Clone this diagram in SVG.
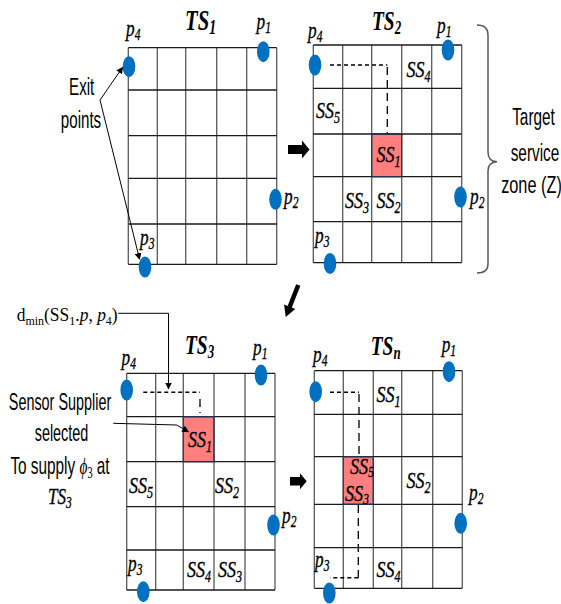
<svg xmlns="http://www.w3.org/2000/svg" width="561" height="604" viewBox="0 0 561 604">
<defs>
<style>
.bg{fill:#fff}
.h{stroke:#1a1a1a;stroke-width:1.3}
.v{stroke:#595959;stroke-width:1.3}
.hl{fill:#FF7F7F;stroke:#1F3864;stroke-width:1}
.dot{fill:#0070C0}
.m{font-family:"Liberation Serif",serif;font-style:italic;font-size:24px;fill:#000;stroke:#000;stroke-width:0.35}
.sub{font-size:16px}
.t{font-family:"Liberation Serif",serif;font-style:italic;font-weight:bold;fill:#000}
.n{font-family:"Liberation Sans",Arial,sans-serif;font-size:24px;fill:#000;text-anchor:middle}
.r{font-family:"Liberation Serif",serif;font-size:19px;fill:#000}
.dash{fill:none;stroke:#000;stroke-width:1.6;stroke-dasharray:4 3}
.vdash{fill:none;stroke:#000;stroke-width:1.3;stroke-dasharray:8 5}
.thin{fill:none;stroke:#000;stroke-width:1}
</style>
<marker id="ah" markerWidth="7" markerHeight="7" refX="6" refY="3.5" orient="auto" markerUnits="userSpaceOnUse">
<path d="M0,0 L7,3.5 L0,7 Z" fill="#000"/>
</marker>
</defs>
<rect class="bg" width="561" height="604"/>

<g id="ts1">
<g class="v">
<line x1="128.3" y1="47.7" x2="128.3" y2="264.3"/><line x1="157.3" y1="47.7" x2="157.3" y2="264.3"/><line x1="185.7" y1="47.7" x2="185.7" y2="264.3"/><line x1="216.7" y1="47.7" x2="216.7" y2="264.3"/><line x1="246.7" y1="47.7" x2="246.7" y2="264.3"/><line x1="276.7" y1="47.7" x2="276.7" y2="264.3"/>
</g>
<g class="h">
<line x1="128.3" y1="47.7" x2="276.7" y2="47.7"/><line x1="128.3" y1="90" x2="276.7" y2="90"/><line x1="128.3" y1="135.7" x2="276.7" y2="135.7"/><line x1="128.3" y1="178.3" x2="276.7" y2="178.3"/><line x1="128.3" y1="224" x2="276.7" y2="224"/><line x1="128.3" y1="264.3" x2="276.7" y2="264.3"/>
</g>
<ellipse class="dot" cx="129" cy="66.7" rx="6.3" ry="10.5"/>
<ellipse class="dot" cx="263.3" cy="51.7" rx="6.3" ry="10.5"/>
<ellipse class="dot" cx="275.5" cy="199.3" rx="6.3" ry="10.5"/>
<ellipse class="dot" cx="145" cy="267" rx="6.3" ry="10.5"/>
<text class="t" font-size="30" transform="translate(185,29.5) scale(0.69,1)">TS<tspan font-size="20" dy="4">1</tspan></text>
<text class="m" transform="translate(126,36) scale(0.72,1)">p<tspan class="sub" dy="4">4</tspan></text>
<text class="m" transform="translate(256.5,29) scale(0.72,1)">p<tspan class="sub" dy="4">1</tspan></text>
<text class="m" transform="translate(284,204) scale(0.72,1)">p<tspan class="sub" dy="4">2</tspan></text>
<text class="m" transform="translate(140,245) scale(0.72,1)">p<tspan class="sub" dy="4">3</tspan></text>
</g>

<g id="ts2">
<rect class="hl" x="371.7" y="134" width="30" height="42.7"/>
<g class="v">
<line x1="313.3" y1="45" x2="313.3" y2="262.7"/><line x1="342.7" y1="45" x2="342.7" y2="262.7"/><line x1="371.7" y1="45" x2="371.7" y2="262.7"/><line x1="401.7" y1="45" x2="401.7" y2="262.7"/><line x1="431.7" y1="45" x2="431.7" y2="262.7"/><line x1="461.7" y1="45" x2="461.7" y2="262.7"/>
</g>
<g class="h">
<line x1="313.3" y1="45" x2="461.7" y2="45"/><line x1="313.3" y1="88.3" x2="461.7" y2="88.3"/><line x1="313.3" y1="134" x2="461.7" y2="134"/><line x1="313.3" y1="176.7" x2="461.7" y2="176.7"/><line x1="313.3" y1="221.7" x2="461.7" y2="221.7"/><line x1="313.3" y1="262.7" x2="461.7" y2="262.7"/>
</g>
<rect x="371.7" y="134" width="30" height="42.7" fill="none" stroke="#1F3864" stroke-width="1"/>
<ellipse class="dot" cx="315" cy="65" rx="6.3" ry="10.5"/>
<ellipse class="dot" cx="448" cy="50" rx="6.3" ry="10.5"/>
<ellipse class="dot" cx="460.5" cy="197" rx="6.3" ry="10.5"/>
<ellipse class="dot" cx="330" cy="263.5" rx="6.3" ry="10.5"/>
<text class="t" font-size="27" transform="translate(372,30) scale(0.72,1)">TS<tspan font-size="18" dy="4">2</tspan></text>
<text class="m" transform="translate(308,38) scale(0.72,1)">p<tspan class="sub" dy="4">4</tspan></text>
<text class="m" transform="translate(437,33) scale(0.72,1)">p<tspan class="sub" dy="4">1</tspan></text>
<text class="m" transform="translate(470,204) scale(0.72,1)">p<tspan class="sub" dy="4">2</tspan></text>
<text class="m" transform="translate(315,243) scale(0.72,1)">p<tspan class="sub" dy="4">3</tspan></text>
<text class="m" transform="translate(406.5,77) scale(0.75,1)">SS<tspan class="sub" dy="5">4</tspan></text>
<text class="m" transform="translate(316,118) scale(0.75,1)">SS<tspan class="sub" dy="5">5</tspan></text>
<text class="m" transform="translate(376.5,161.7) scale(0.75,1)">SS<tspan class="sub" dy="5">1</tspan></text>
<text class="m" transform="translate(345,208) scale(0.75,1)">SS<tspan class="sub" dy="5">3</tspan></text>
<text class="m" transform="translate(376.5,208) scale(0.75,1)">SS<tspan class="sub" dy="5">2</tspan></text>
</g>

<g id="ts3">
<rect class="hl" x="183.3" y="416.7" width="30.7" height="45"/>
<g class="v">
<line x1="126.7" y1="373.3" x2="126.7" y2="590"/><line x1="155.7" y1="373.3" x2="155.7" y2="590"/><line x1="183.3" y1="373.3" x2="183.3" y2="590"/><line x1="214" y1="373.3" x2="214" y2="590"/><line x1="245" y1="373.3" x2="245" y2="590"/><line x1="275" y1="373.3" x2="275" y2="590"/>
</g>
<g class="h">
<line x1="126.7" y1="373.3" x2="275" y2="373.3"/><line x1="126.7" y1="416.7" x2="275" y2="416.7"/><line x1="126.7" y1="461.7" x2="275" y2="461.7"/><line x1="126.7" y1="506.7" x2="275" y2="506.7"/><line x1="126.7" y1="550" x2="275" y2="550"/><line x1="126.7" y1="590" x2="275" y2="590"/>
</g>
<rect x="183.3" y="416.7" width="30.7" height="45" fill="none" stroke="#1F3864" stroke-width="1"/>
<ellipse class="dot" cx="126.7" cy="390" rx="6.3" ry="10.5"/>
<ellipse class="dot" cx="261" cy="375" rx="6.3" ry="10.5"/>
<ellipse class="dot" cx="273.5" cy="525" rx="6.3" ry="10.5"/>
<ellipse class="dot" cx="143.3" cy="591.7" rx="6.3" ry="10.5"/>
<text class="t" font-size="27" transform="translate(185,354) scale(0.72,1)">TS<tspan font-size="18" dy="4">3</tspan></text>
<text class="m" transform="translate(121.5,365) scale(0.72,1)">p<tspan class="sub" dy="4">4</tspan></text>
<text class="m" transform="translate(253,355) scale(0.72,1)">p<tspan class="sub" dy="4">1</tspan></text>
<text class="m" transform="translate(282,523) scale(0.72,1)">p<tspan class="sub" dy="4">2</tspan></text>
<text class="m" transform="translate(128,571) scale(0.72,1)">p<tspan class="sub" dy="4">3</tspan></text>
<text class="m" transform="translate(188,446.7) scale(0.75,1)">SS<tspan class="sub" dy="5">1</tspan></text>
<text class="m" transform="translate(129,493.3) scale(0.75,1)">SS<tspan class="sub" dy="5">5</tspan></text>
<text class="m" transform="translate(215,493) scale(0.75,1)">SS<tspan class="sub" dy="5">2</tspan></text>
<text class="m" transform="translate(187,576.7) scale(0.75,1)">SS<tspan class="sub" dy="5">4</tspan></text>
<text class="m" transform="translate(218,576.7) scale(0.75,1)">SS<tspan class="sub" dy="5">3</tspan></text>
</g>

<g id="tsn">
<rect class="hl" x="343.3" y="456.7" width="30" height="47.6"/>
<g class="v">
<line x1="314.3" y1="370.7" x2="314.3" y2="588.3"/><line x1="343.3" y1="370.7" x2="343.3" y2="588.3"/><line x1="373.3" y1="370.7" x2="373.3" y2="588.3"/><line x1="401.7" y1="370.7" x2="401.7" y2="588.3"/><line x1="432.7" y1="370.7" x2="432.7" y2="588.3"/><line x1="462.3" y1="370.7" x2="462.3" y2="588.3"/>
</g>
<g class="h">
<line x1="314.3" y1="370.7" x2="462.3" y2="370.7"/><line x1="314.3" y1="414.3" x2="462.3" y2="414.3"/><line x1="314.3" y1="456.7" x2="462.3" y2="456.7"/><line x1="314.3" y1="504.3" x2="462.3" y2="504.3"/><line x1="314.3" y1="547.7" x2="462.3" y2="547.7"/><line x1="314.3" y1="588.3" x2="462.3" y2="588.3"/>
</g>
<rect x="343.3" y="456.7" width="30" height="47.6" fill="none" stroke="#1F3864" stroke-width="1"/>
<ellipse class="dot" cx="315.7" cy="391.7" rx="6.3" ry="10.5"/>
<ellipse class="dot" cx="449" cy="371.7" rx="6.3" ry="10.5"/>
<ellipse class="dot" cx="460.7" cy="523.3" rx="6.3" ry="10.5"/>
<ellipse class="dot" cx="329.3" cy="593" rx="6.3" ry="10.5"/>
<text class="t" font-size="27" transform="translate(370.7,355) scale(0.72,1)">TS<tspan font-size="18" dy="4">n</tspan></text>
<text class="m" transform="translate(313,361.7) scale(0.72,1)">p<tspan class="sub" dy="4">4</tspan></text>
<text class="m" transform="translate(441.7,351.7) scale(0.72,1)">p<tspan class="sub" dy="4">1</tspan></text>
<text class="m" transform="translate(469,500) scale(0.72,1)">p<tspan class="sub" dy="4">2</tspan></text>
<text class="m" transform="translate(315,567) scale(0.72,1)">p<tspan class="sub" dy="4">3</tspan></text>
<text class="m" transform="translate(376.5,401.7) scale(0.75,1)">SS<tspan class="sub" dy="5">1</tspan></text>
<text class="m" font-size="22" transform="translate(350,474) scale(0.76,1)">SS<tspan font-size="15" dy="3">5</tspan></text>
<text class="m" font-size="22" transform="translate(345,501) scale(0.76,1)">SS<tspan font-size="15" dy="3">3</tspan></text>
<text class="m" transform="translate(406.5,488.3) scale(0.75,1)">SS<tspan class="sub" dy="5">2</tspan></text>
<text class="m" transform="translate(376.5,576.7) scale(0.75,1)">SS<tspan class="sub" dy="5">4</tspan></text>
</g>

<g id="exit-points">
<text class="n" font-size="25" transform="translate(81.7,95) scale(0.63,1)">Exit</text>
<text class="n" font-size="25" transform="translate(81,128) scale(0.63,1)">points</text>
</g>

<g id="target-zone">
<path d="M477,25 Q488,25 488,35 L488,152 Q488,161.5 497,161.7 Q488,162 488,171 L488,264 Q488,273 477,273" fill="none" stroke="#595959" stroke-width="1.5"/>
<text class="n" font-size="22" transform="translate(533.5,125) scale(0.64,1)">Target</text>
<text class="n" font-size="22" transform="translate(535,161) scale(0.64,1)">service</text>
<text class="n" font-size="22" transform="translate(531.5,193) scale(0.68,1)">zone (Z)</text>
</g>

<g id="dmin-label">
<text class="r" transform="translate(16.7,321) scale(0.92,1)">d<tspan font-size="13" dy="4">min</tspan><tspan dy="-4">(SS</tspan><tspan font-size="13" dy="4">1</tspan><tspan dy="-4">.</tspan><tspan font-style="italic">p</tspan><tspan>, </tspan><tspan font-style="italic">p</tspan><tspan font-size="13" dy="4">4</tspan><tspan dy="-4">)</tspan></text>
</g>

<g id="sensor-label">
<text class="n" transform="translate(60,410) scale(0.6,1)">Sensor Supplier</text>
<text class="n" transform="translate(61.5,441) scale(0.6,1)">selected</text>
<text class="n" transform="translate(60,474) scale(0.64,1)">To supply <tspan font-family="Liberation Serif, serif" font-style="italic">ϕ</tspan><tspan font-family="Liberation Serif, serif" font-size="16" dy="4">3</tspan><tspan dy="-4"> at</tspan></text>
<text class="m" transform="translate(48,504) scale(0.71,1)">TS<tspan class="sub" dy="4">3</tspan></text>
</g>

<g id="connectors">
<line class="thin" x1="100" y1="100" x2="122.5" y2="67.5" marker-end="url(#ah)"/>
<line class="thin" x1="100" y1="100" x2="139.5" y2="259" marker-end="url(#ah)"/>
<polyline class="thin" points="118.3,313.3 168.5,313.3 168.5,388.5" marker-end="url(#ah)"/>
<polyline class="thin" points="113.3,423.3 176.7,425 188.3,431.7" marker-end="url(#ah)"/>
<path class="dash" d="M330,65 H387.3"/>
<path class="vdash" d="M387.3,67 V133.3"/>
<path class="dash" d="M143.3,392.3 H200"/>
<path class="vdash" d="M200,399 V413"/>
<path class="dash" d="M330,392.3 H359"/>
<path class="vdash" d="M359,394 V456.7"/>
<path class="vdash" d="M358.3,505 V577.7"/>
<path class="dash" d="M358.3,577.7 H330"/>
<path d="M288,145 L302,145 L302,140.5 L309.5,149.5 L302,158.5 L302,154 L288,154 Z" fill="#000"/>
<path d="M290,477 L300,477 L300,473.3 L306.7,481.3 L300,489.3 L300,485.6 L290,485.6 Z" fill="#000"/>
<polygon points="296.2,284.2 300.4,285.8 291.8,307.6 295.3,309.0 285.7,317 284.1,304.6 287.6,306.0" fill="#000"/>
</g>
</svg>
